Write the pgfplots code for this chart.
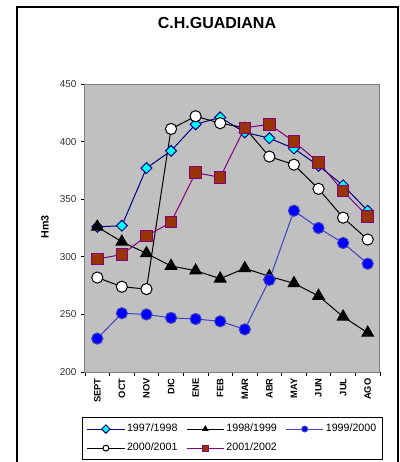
\documentclass[border=0pt]{standalone}
\usepackage{pgfplots}
\pgfplotsset{compat=1.18}
\usepackage{fontspec}
\setmainfont{Liberation Sans}

\definecolor{navyl}{HTML}{000080}
\definecolor{cyanf}{HTML}{00FFFF}
\definecolor{bluel}{HTML}{4040C0}
\definecolor{bluef}{HTML}{0000FF}
\definecolor{purplel}{HTML}{800080}
\definecolor{brownf}{HTML}{993300}
\definecolor{plotbg}{HTML}{C0C0C0}
\definecolor{axgray}{HTML}{808080}

\begin{document}
\begin{tikzpicture}
\useasboundingbox (0,0) rectangle (300pt,346.5pt);
\fill[white] (0,0) rectangle (300pt,346.5pt);

\begin{axis}[
  at={(63.75pt,67.5pt)}, anchor=south west,
  scale only axis,
  width=221.25pt, height=216pt,
  xmin=-0.5, xmax=11.5,
  ymin=200, ymax=450,
  ytick={200,250,...,450},
  xtick={-0.5,0.5,...,11.5},
  xticklabels={},
  extra x ticks={0,...,11},
  extra x tick labels={SEPT,OCT,NOV,DIC,ENE,FEB,MAR,ABR,MAY,JUN,JUL,AGO},
  extra x tick style={major tick length=0pt, tick style={draw=none}},
  axis background/.style={fill=plotbg},
  axis line style={axgray},
  tick align=outside,
  tick style={black, line width=0.5pt},
  major tick length=3pt,
  xtick pos=bottom, ytick pos=left,
  /pgf/number format/assume math mode=true,
  yticklabel style={font=\fontsize{7.5}{8}\selectfont, color=black!80, inner sep=0pt},
  yticklabel shift=3pt,
  xticklabel style={font=\fontsize{7}{8}\selectfont\bfseries, rotate=90, anchor=east, inner sep=0pt},
  xticklabel shift=4.5pt,
  line width=0.75pt,
  every axis plot/.append style={line width=0.75pt, mark options={solid, draw=black, line width=0.75pt}},
  legend style={at={(0.5,-0.15625)}, anchor=north, draw=black, line width=0.75pt,
    fill=white, font=\fontsize{8}{9}\selectfont, inner xsep=3pt, inner ysep=3.5pt,
    row sep=4pt,
    /tikz/every even column/.append style={column sep=5pt},
    nodes={inner sep=1.5pt}},
  legend columns=3,
  legend cell align=left,
  legend image code/.code={\draw[mark repeat=2, mark phase=2, #1, mark size=2.2pt]
    plot coordinates {(0pt,0pt) (14pt,0pt) (28pt,0pt)};},
]
% 1997/1998
\addplot[navyl, mark=square*, mark size=2.9pt, mark options={fill=cyanf, rotate=45}] coordinates {
  (0,326) (1,327) (2,377) (3,392) (4,415) (5,421)
  (6,408) (7,403) (8,394) (9,379) (10,362) (11,340)
};
\addlegendentry{1997/1998}
% 1998/1999
\addplot[black, mark=triangle*, mark size=5pt, mark options={fill=black}] coordinates {
  (0,326) (1,313) (2,303) (3,292) (4,288) (5,281)
  (6,290) (7,283) (8,277) (9,266) (10,248) (11,234)
};
\addlegendentry{1998/1999}
% 1999/2000
\addplot[bluel, mark=*, mark size=4.2pt, mark options={fill=bluef}] coordinates {
  (0,229) (1,251) (2,250) (3,247) (4,246) (5,244)
  (6,237) (7,280) (8,340) (9,325) (10,312) (11,294)
};
\addlegendentry{1999/2000}
% 2000/2001
\addplot[black, mark=*, mark size=4.2pt, mark options={fill=white}] coordinates {
  (0,282) (1,274) (2,272) (3,411) (4,422) (5,416)
  (6,412) (7,387) (8,380) (9,359) (10,334) (11,315)
};
\addlegendentry{2000/2001}
% 2001/2002
\addplot[purplel, mark=square*, mark size=4.3pt, mark options={fill=brownf}] coordinates {
  (0,298) (1,302) (2,318) (3,330) (4,373) (5,369)
  (6,412) (7,415) (8,400) (9,382) (10,357) (11,335)
};
\addlegendentry{2001/2002}
\end{axis}

\node[font=\fontsize{12}{14}\selectfont\bfseries] at (162.75pt,329.5pt) {C.H.GUADIANA};
\node[font=\fontsize{8}{9}\selectfont\bfseries, rotate=90] at (33.75pt,176.25pt) {Hm3};
\draw[black, line width=0.8pt] (12.75pt,-2pt) rectangle (298.5pt,341.25pt);
\end{tikzpicture}
\end{document}
